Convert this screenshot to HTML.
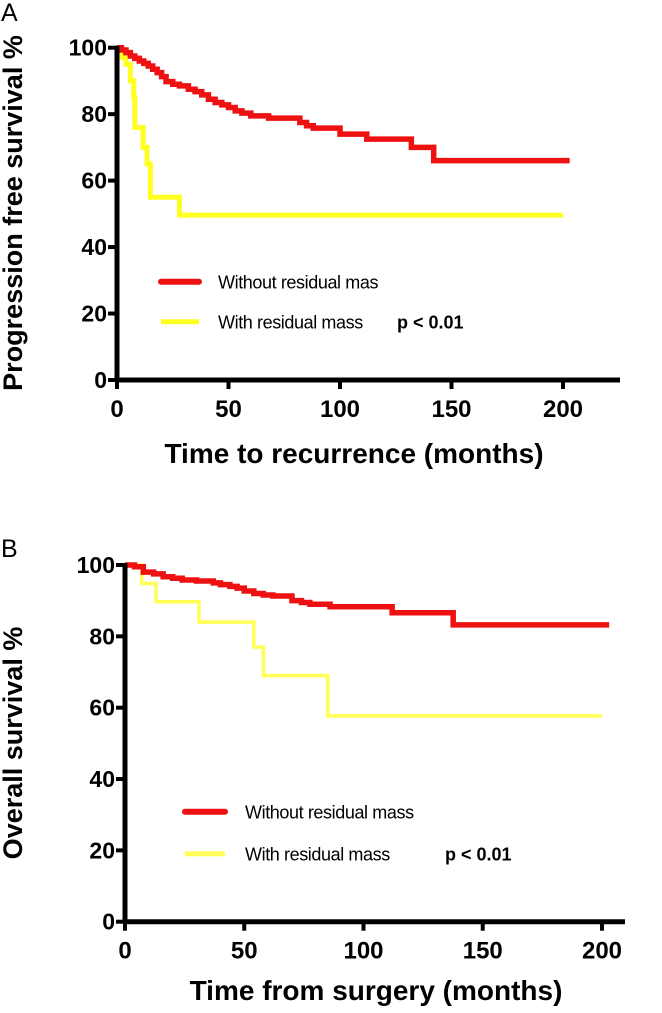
<!DOCTYPE html>
<html><head><meta charset="utf-8"><style>
body{margin:0;background:#fff;}
svg{display:block;font-family:"Liberation Sans",Arial,sans-serif;}
</style></head><body>
<svg id="svg" width="662" height="1013" viewBox="0 0 662 1013"></svg>
<script>
const xTicks=[0,50,100,150,200];
const yTicks=[0,20,40,60,80,100];
const aRedT=[0,2,4,6,8,10,12,14,16,18,20,22,25,28,32,35,38,41,44,47,50,53,56,60,68,82,85,88,100,112,132,142,203];
const aRedV=[100,99.3,98.5,97.5,96.8,96,95.3,94.5,93.5,92.5,91.3,89.8,89,88.5,87.5,86.8,85.8,84.5,83.5,82.8,82,81,80.3,79.5,78.8,77.5,76.5,75.8,74,72.5,70,66,66];
const aYelT=[0,2,4,6,7.5,8,11.7,13.5,15,28,200];
const aYelV=[100,97,95,90,85,76,70,65,55,49.6,49.6];
const bRedT=[0,4,7.7,12,16,20,24,30,37,40,44,47,50,54,58,62,68,70,74,77.5,86,112,137.6,203];
const bRedV=[100,99.5,98,97.5,96.7,96.3,95.8,95.5,95,94.5,94,93.5,92.7,92,91.6,91.3,91.3,90,89.5,89,88.3,86.6,83.2,83.2];
const bYelT=[0,7,13,31,54,58,85,200];
const bYelV=[100,94.8,89.7,84,77,69,57.7,57.7];
const NS='http://www.w3.org/2000/svg';
const svg=document.getElementById('svg');
function el(tag,attrs,parent,text){const e=document.createElementNS(NS,tag);for(const k in attrs)e.setAttribute(k,attrs[k]);if(text!==undefined)e.textContent=text;(parent||svg).appendChild(e);return e;}
function panel(p){
  const g=el('g',{});
  
  
  const sx=v=>p.x0+(p.x200-p.x0)*v/200;
  const sy=v=>p.y0+(p.y100-p.y0)*v/100;
  function step(T,V,color,w,name){
    let d='M'+sx(T[0])+','+sy(V[0]);
    for(let i=1;i<T.length;i++){d+=' H'+sx(T[i])+' V'+sy(V[i]);}
    const e=el('path',{d:d,fill:'none',stroke:color,'stroke-width':w,'stroke-linejoin':'miter'},g);
    
    
  }
  step(p.yt,p.yv,p.ycol,p.yw,'curve-with-residual-mass');
  step(p.rt,p.rv,'#ee1111',5.5,'curve-without-residual-mass');
  const ya=el('line',{x1:p.x0,y1:p.y0+2,x2:p.x0,y2:p.y100-2,stroke:'#000','stroke-width':5},g);
  
  
  const xa=el('line',{x1:p.x0-2,y1:p.y0,x2:p.xend,y2:p.y0,stroke:'#000','stroke-width':5},g);
  
  
  yTicks.forEach(v=>{
    el('line',{x1:p.x0-9,y1:sy(v),x2:p.x0,y2:sy(v),stroke:'#000','stroke-width':4},g);
    const t=el('text',{x:p.x0-10,y:sy(v)+8,'text-anchor':'end','font-size':23,'font-weight':'bold'},g,v);
    
    
  });
  xTicks.forEach(v=>{
    el('line',{x1:sx(v),y1:p.y0,x2:sx(v),y2:p.y0+9,stroke:'#000','stroke-width':4},g);
    const t=el('text',{x:sx(v),y:p.y0+37,'text-anchor':'middle','font-size':24,'font-weight':'bold'},g,v);
    
    
  });
  const xt=el('text',{x:p.xtX,y:p.xtY,'text-anchor':'middle','font-size':28,'font-weight':'bold'},g,p.xTitle);
  
  
  const yt=el('text',{x:0,y:0,'text-anchor':'middle','font-size':27,'font-weight':'bold',transform:'translate('+p.ytX+','+p.ytY+') rotate(-90)'},g,p.yTitle);
  
  
  const lt=el('text',{x:1,y:p.letterY,'font-size':25},g,p.letter);
  
  
  const l1=el('line',{x1:p.lx,y1:p.ly1,x2:p.lx+p.lw,y2:p.ly1,stroke:'#ee1111','stroke-width':6,'stroke-linecap':'round'},g);
  
  
  const t1=el('text',{x:p.ltx,y:p.ly1+7,'font-size':18,'letter-spacing':'-0.4'},g,p.leg1);
  
  
  const l2=el('line',{x1:p.lx,y1:p.ly2,x2:p.lx+p.lw,y2:p.ly2,stroke:p.ycol,'stroke-width':5},g);
  
  
  const t2=el('text',{x:p.ltx,y:p.ly2+7,'font-size':18,'letter-spacing':'-0.4'},g,'With residual mass');
  
  
  const pv=el('text',{x:p.px,y:p.ly2+7,'font-size':18,'font-weight':'bold'},g,'p < 0.01');
  
  
}
panel({name:'panel-a',x0:117,x200:563,xend:620,y0:380,y100:47.7,rt:aRedT,rv:aRedV,yt:aYelT,yv:aYelV,yw:5,ycol:'#ffff22',
  xTitle:'Time to recurrence (months)',xtX:354,xtY:463,yTitle:'Progression free survival %',ytX:22,ytY:213,letter:'A',letterY:21,
  lx:161,lw:38,ly1:281.7,ly2:321.7,ltx:218,px:397,leg1:'Without residual mas'});
panel({name:'panel-b',x0:125,x200:602,xend:625,y0:921.7,y100:565,rt:bRedT,rv:bRedV,yt:bYelT,yv:bYelV,yw:3.5,ycol:'#ffff55',
  xTitle:'Time from surgery (months)',xtX:376,xtY:1000,yTitle:'Overall survival %',ytX:22,ytY:743,letter:'B',letterY:557,
  lx:185,lw:40,ly1:811.7,ly2:853.7,ltx:245,px:445,leg1:'Without residual mass'});
</script>
</body></html>
